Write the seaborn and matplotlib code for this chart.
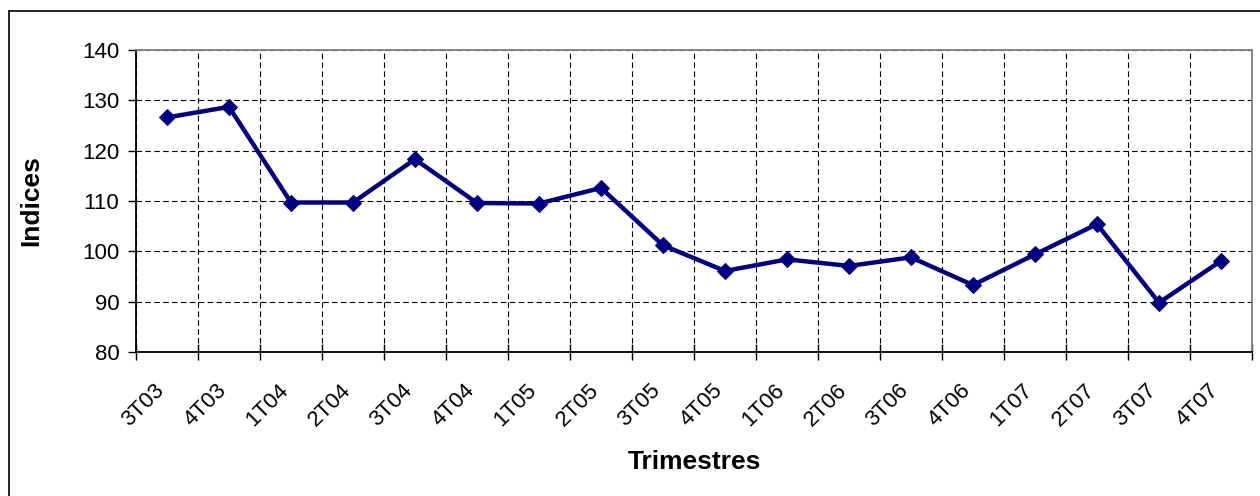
import numpy as np
import pandas as pd
import matplotlib
matplotlib.use("Agg")
import matplotlib.pyplot as plt
from matplotlib.ticker import FixedLocator
from matplotlib.lines import Line2D
from matplotlib.transforms import ScaledTranslation
import seaborn as sns

categories = ["3T03", "4T03", "1T04", "2T04", "3T04", "4T04", "1T05", "2T05", "3T05",
              "4T05", "1T06", "2T06", "3T06", "4T06", "1T07", "2T07", "3T07", "4T07"]
indices = [126.6, 128.7, 109.7, 109.7, 118.3, 109.6, 109.5, 112.6, 101.2,
           96.1, 98.4, 97.1, 98.8, 93.3, 99.4, 105.4, 89.8, 98.1]
y_ticks = [80, 90, 100, 110, 120, 130, 140]

sns.set_theme(style="white")
plt.rcParams['font.family'] = ['Liberation Sans', 'DejaVu Sans']
plt.rcParams['text.color'] = 'black'
plt.rcParams['axes.labelcolor'] = 'black'
plt.rcParams['xtick.color'] = 'black'
plt.rcParams['ytick.color'] = 'black'

df = pd.DataFrame({"Trimestres": categories, "Indices": indices})

fig = plt.figure(figsize=(12.6, 4.96), dpi=100)
ax = fig.add_axes([136/1260, 1 - 352/496, (1252-136)/1260, (352-50)/496])

sns.lineplot(data=df, x="Trimestres", y="Indices", ax=ax, color="#000080",
             linewidth=3.2, marker="D", markersize=8.5, markeredgecolor="#000080",
             sort=False, zorder=5)

n = len(categories)
ax.set_xlim(-0.5, n - 0.5)
ax.set_ylim(y_ticks[0], y_ticks[-1])
ax.set_yticks(y_ticks)
ax.set_xticks(range(n))
ax.set_xticklabels(categories, rotation=45, ha="right", va="top",
                   rotation_mode="anchor", fontsize=16)
ax.xaxis.set_minor_locator(FixedLocator(np.arange(-0.5, n, 1.0)))

ax.tick_params(axis="x", which="major", length=0, pad=20)
ax.tick_params(axis="x", which="minor", direction="inout", length=11,
               width=1, color="black", bottom=True)
ax.tick_params(axis="y", which="major", direction="out", length=6, width=1,
               color="black", left=True, labelsize=16, pad=6)

shift = ScaledTranslation(-13/100, 0, fig.dpi_scale_trans)
for lab in ax.get_xticklabels():
    lab.set_transform(lab.get_transform() + shift)

ax.grid(False)
ax.yaxis.grid(True, which="major", color="black", linestyle=(0, (5, 3)), linewidth=0.8)
ax.xaxis.grid(True, which="minor", color="black", linestyle=(0, (5, 3)), linewidth=0.8)
ax.set_axisbelow(True)

for side in ["left", "bottom"]:
    ax.spines[side].set_color("black")
    ax.spines[side].set_linewidth(1.3)
for side in ["top", "right"]:
    ax.spines[side].set_color("#808080")
    ax.spines[side].set_linewidth(1.3)

ax.set_xlabel("Trimestres", fontsize=19, fontweight="bold", labelpad=14)
ax.set_ylabel("Indices", fontsize=19, fontweight="bold", labelpad=28)

# outer chart border (top and left edges visible)
fig.add_artist(Line2D([9/1260, 1.0], [1 - 11/496, 1 - 11/496], transform=fig.transFigure,
                      color="black", linewidth=1.2))
fig.add_artist(Line2D([9/1260, 9/1260], [0.0, 1 - 11/496], transform=fig.transFigure,
                      color="black", linewidth=1.2))

fig.savefig("out.png", dpi=100)
